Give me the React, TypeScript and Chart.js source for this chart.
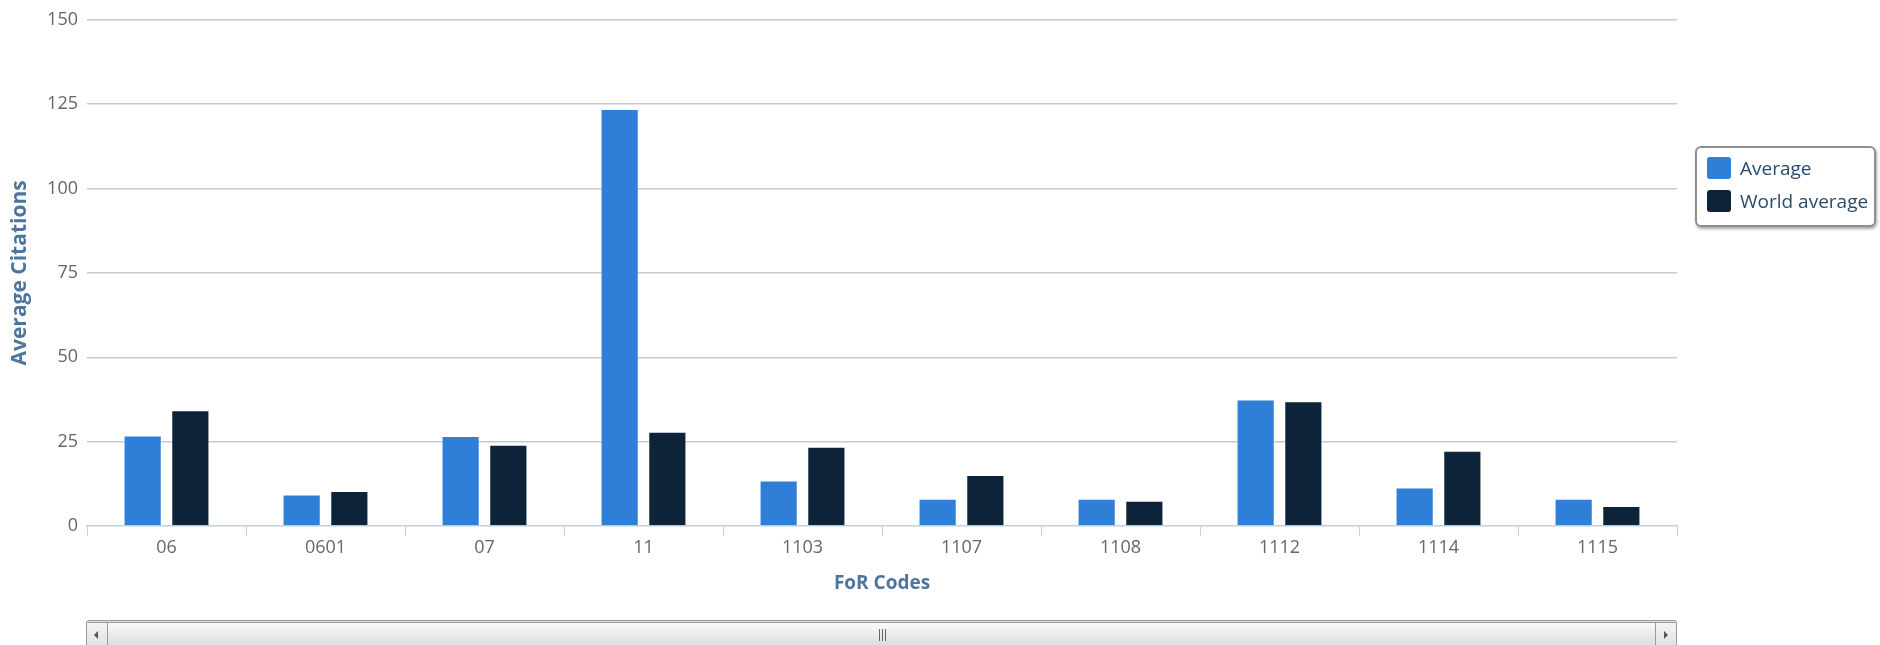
import React, { useEffect, useRef } from 'react';
import { Chart, registerables } from 'chart.js';

Chart.register(...registerables);

const categories = ['06', '0601', '07', '11', '1103', '1107', '1108', '1112', '1114', '1115'];
const averageValues = [26.8, 9.3, 26.7, 123.6, 13.5, 8.1, 8.1, 37.5, 11.4, 8.1];
const worldAverageValues = [34.3, 10.4, 24.1, 27.9, 23.5, 15.1, 7.5, 37.0, 22.3, 5.9];
const seriesNames = ['Average', 'World average'];
const seriesColors = ['#2f7ed8', '#0d233a'];
const yMin = 0;
const yMax = 150;
const yStep = 25;
const xTitle = 'FoR Codes';
const yTitle = 'Average Citations';

const FONT = '"Open Sans", "Noto Sans", sans-serif';

export default function App() {
  const canvasRef = useRef<HTMLCanvasElement | null>(null);

  useEffect(() => {
    if (!canvasRef.current) return;
    const seriesData = [averageValues, worldAverageValues];
    const chart = new Chart(canvasRef.current, {
      type: 'bar',
      data: {
        labels: categories,
        datasets: seriesNames.map((name, i) => ({
          label: name,
          data: seriesData[i],
          backgroundColor: seriesColors[i],
          borderColor: 'rgba(255,255,255,0.45)',
          borderWidth: 1,
          categoryPercentage: 0.6,
          barPercentage: 0.8,
        })),
      },
      options: {
        responsive: false,
        maintainAspectRatio: false,
        animation: false,
        layout: { padding: { top: 17, right: 203, bottom: 0, left: 0 } },
        plugins: {
          legend: { display: false },
          tooltip: { enabled: false },
        },
        scales: {
          x: {
            offset: true,
            grid: {
              offset: true,
              drawOnChartArea: false,
              color: '#C0D0E0',
              tickLength: 10,
              lineWidth: 1,
            },
            border: { display: true, color: '#C0D0E0', width: 1.6 },
            ticks: {
              color: '#666666',
              font: { family: FONT, size: 18 },
              padding: 1,
              maxRotation: 0,
              autoSkip: false,
            },
            title: {
              display: true,
              text: xTitle,
              color: '#4d759e',
              font: { family: FONT, size: 19, weight: 'bold' },
              padding: { top: 0, bottom: 20 },
            },
            afterFit: (scale: any) => {
              scale.height = 89;
            },
          },
          y: {
            min: yMin,
            max: yMax,
            grid: {
              drawTicks: false,
              color: (ctx: any) => (ctx.tick && ctx.tick.value === 0 ? 'rgba(0,0,0,0)' : '#C8C8C8'),
              lineWidth: 1.5,
            },
            border: { display: false },
            ticks: {
              stepSize: yStep,
              color: '#666666',
              font: { family: FONT, size: 18 },
              padding: 9,
            },
            title: {
              display: true,
              text: yTitle,
              color: '#4d759e',
              font: { family: FONT, size: 21, weight: 'bold' },
              padding: { top: 7, bottom: 0 },
            },
            afterFit: (scale: any) => {
              scale.width = 87;
            },
          },
        },
      },
    });
    return () => chart.destroy();
  }, []);

  return (
    <div style={{ position: 'fixed', left: 0, top: 0, width: 1880, height: 645, overflow: 'hidden', background: '#fff' }}>
      <canvas ref={canvasRef} width={1880} height={615} style={{ position: 'absolute', left: 0, top: 0, width: 1880, height: 615 }} />
      {/* Legend */}
      <div
        style={{
          position: 'absolute',
          left: 1695,
          top: 146,
          width: 181,
          height: 81,
          border: '2px solid #8f8f8f',
          borderRadius: 6,
          boxShadow: '1px 2px 3px rgba(0,0,0,0.35)',
          background: '#fff',
          boxSizing: 'border-box',
        }}
      >
        {seriesNames.map((name, i) => (
          <div
            key={name}
            style={{
              position: 'absolute',
              left: 10,
              top: 8 + i * 33,
              height: 24,
              display: 'flex',
              alignItems: 'center',
              whiteSpace: 'nowrap',
            }}
          >
            <div style={{ width: 24, height: 22, background: seriesColors[i], borderRadius: 3, marginRight: 9 }} />
            <span style={{ fontFamily: FONT, fontSize: 19, color: '#274b6d', lineHeight: '24px' }}>{name}</span>
          </div>
        ))}
      </div>
      {/* Scrollbar */}
      <div
        style={{
          position: 'absolute',
          left: 86,
          top: 620,
          width: 1591,
          height: 30,
          boxSizing: 'border-box',
          border: '1px solid #9a9a9a',
          borderTop: '3px double #9a9a9a',
          borderRadius: 3,
          background: 'linear-gradient(#fafafa, #d9d9d9)',
        }}
      >
        <div style={{ position: 'absolute', left: 0, top: 0, width: 20, height: 30, borderRight: '1px solid #9a9a9a', background: 'linear-gradient(#f4f4f4, #dcdcdc)' }}>
          <div style={{ position: 'absolute', left: 7, top: 8, width: 0, height: 0, borderTop: '4px solid transparent', borderBottom: '4px solid transparent', borderRight: '4px solid #555' }} />
        </div>
        <div style={{ position: 'absolute', right: 0, top: 0, width: 20, height: 30, borderLeft: '1px solid #9a9a9a', background: 'linear-gradient(#f4f4f4, #dcdcdc)' }}>
          <div style={{ position: 'absolute', left: 8, top: 8, width: 0, height: 0, borderTop: '4px solid transparent', borderBottom: '4px solid transparent', borderLeft: '4px solid #555' }} />
        </div>
        {[-3, 0, 3].map((d) => (
          <div key={d} style={{ position: 'absolute', left: 795 + d, top: 6, width: 1, height: 12, background: '#666' }} />
        ))}
      </div>
    </div>
  );
}
